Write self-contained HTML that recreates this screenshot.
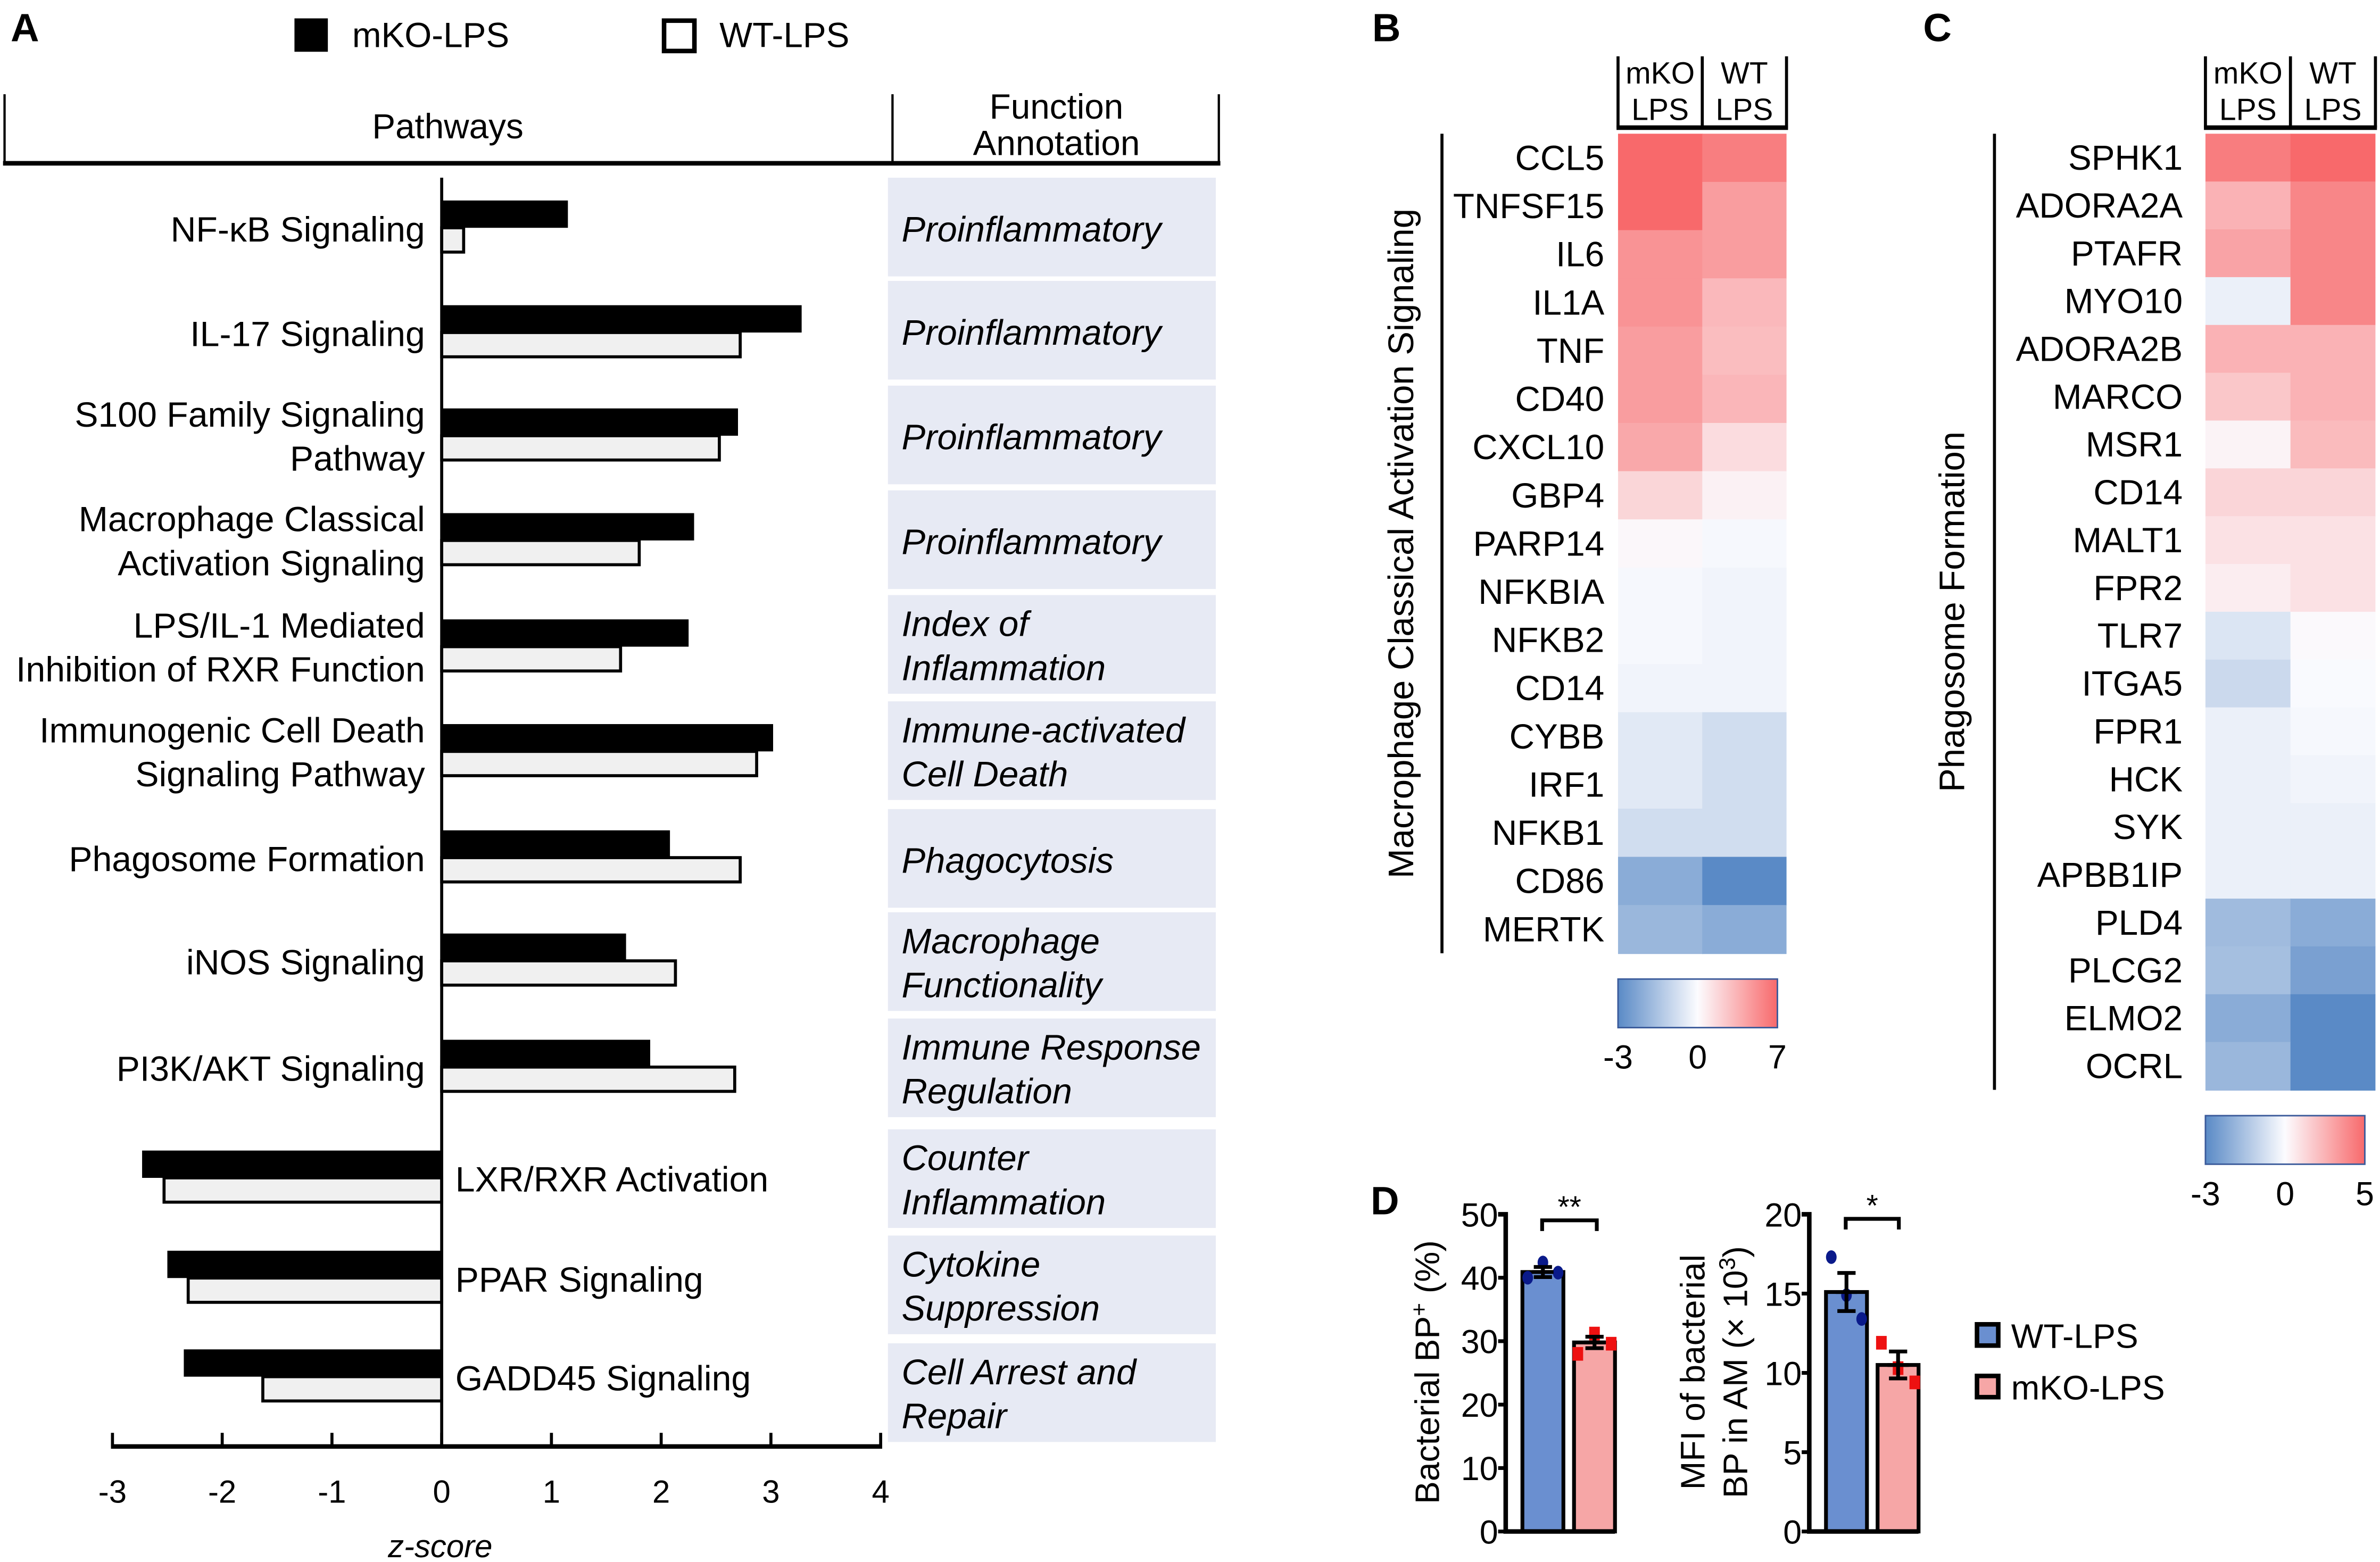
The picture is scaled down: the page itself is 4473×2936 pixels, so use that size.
<!DOCTYPE html>
<html><head><meta charset="utf-8"><style>
html,body{margin:0;padding:0;background:#fff;}
svg{display:block;font-family:"Liberation Sans",Arial,sans-serif;}
</style></head><body>
<svg id="fig" width="4473" height="2936" viewBox="0 0 1568 1029" xmlns="http://www.w3.org/2000/svg">
<rect width="1568" height="1029" fill="#fff"/>
<g id="pa"></g>
<g id="pb"></g>
<g id="pc"></g>
<g id="pd"></g>
</svg>
<script>
// ---------- Panel A data ----------
const pathways = ["NF-κB Signaling","IL-17 Signaling","S100 Family Signaling|Pathway","Macrophage Classical|Activation Signaling","LPS/IL-1 Mediated|Inhibition of RXR Function","Immunogenic Cell Death|Signaling Pathway","Phagosome Formation","iNOS Signaling","PI3K/AKT Signaling","LXR/RXR Activation","PPAR Signaling","GADD45 Signaling"];
const annotations = ["Proinflammatory","Proinflammatory","Proinflammatory","Proinflammatory","Index of|Inflammation","Immune-activated|Cell Death","Phagocytosis","Macrophage|Functionality","Immune Response|Regulation","Counter|Inflammation","Cytokine|Suppression","Cell Arrest and|Repair"];
const mkoZ = [1.15,3.28,2.7,2.3,2.25,3.02,2.08,1.68,1.9,-2.73,-2.5,-2.35];
const wtZ = [0.2,2.72,2.53,1.8,1.63,2.87,2.72,2.13,2.67,-2.53,-2.31,-1.63];
const zTicks = [-3,-2,-1,0,1,2,3,4];

// ---------- Panel B data ----------
const genesB = ["CCL5","TNFSF15","IL6","IL1A","TNF","CD40","CXCL10","GBP4","PARP14","NFKBIA","NFKB2","CD14","CYBB","IRF1","NFKB1","CD86","MERTK"];
const bMKO = [7,7,5,5,4.5,4.5,4,1.8,0.2,-0.1,-0.1,-0.2,-0.5,-0.5,-0.8,-2.1,-1.8];
const bWT = [6,4.5,4.5,3.2,3,3.3,1.5,0.5,-0.1,-0.2,-0.2,-0.2,-0.8,-0.8,-0.8,-3,-2.1];
const bScale = [-3,0,7];

// ---------- Panel C data ----------
const genesC = ["SPHK1","ADORA2A","PTAFR","MYO10","ADORA2B","MARCO","MSR1","CD14","MALT1","FPR2","TLR7","ITGA5","FPR1","HCK","SYK","APBB1IP","PLD4","PLCG2","ELMO2","OCRL"];
const cMKO = [4.3,2.5,3,-0.3,2.5,1.8,0.3,1.3,0.9,0.5,-0.6,-0.9,-0.3,-0.3,-0.3,-0.3,-1.7,-1.6,-2.1,-1.8];
const cWT = [5,4,4,4,2.5,2.5,2.2,1.3,0.9,0.9,0.1,-0.05,-0.1,-0.2,-0.3,-0.3,-2.1,-2.4,-3,-3];
const cScale = [-3,0,5];

// ---------- Panel D data ----------
const dGroups = ["WT-LPS","mKO-LPS"];
const d1Mean = [40.9,29.8];
const d1Sem = [0.8,0.9];
const d1Pts = [[40.0,42.4,40.8],[28.0,31.2,29.6]];
const d1Ticks = [0,10,20,30,40,50];
const d2Mean = [15.1,10.5];
const d2Sem = [1.2,0.85];
const d2Pts = [[17.3,14.9,13.4],[11.9,10.3,9.4]];
const d2Ticks = [0,5,10,15,20];

const NS="http://www.w3.org/2000/svg";
function mk(parent,tag,attrs,text){const e=document.createElementNS(NS,tag);for(const k in attrs)e.setAttribute(k,attrs[k]);if(text!==undefined)e.textContent=text;parent.appendChild(e);return e;}

// ===== Panel A =====
const pa=document.getElementById('pa');
let t=mk(pa,'text',{x:7,y:27,'font-size':26,'font-weight':'bold'},'A');


let lg=mk(pa,'g',{});


mk(lg,'rect',{x:194,y:12,width:22,height:22,fill:'#000'});
mk(lg,'text',{x:232,y:31,'font-size':23},'mKO-LPS');
lg=mk(pa,'g',{});


mk(lg,'rect',{x:437.5,y:13.5,width:20,height:20,fill:'#fff',stroke:'#000','stroke-width':3});
mk(lg,'text',{x:474,y:31,'font-size':23},'WT-LPS');
let hd=mk(pa,'g',{});


mk(hd,'line',{x1:3,y1:62,x2:3,y2:108,stroke:'#000','stroke-width':1.5});
mk(hd,'line',{x1:588,y1:62,x2:588,y2:108,stroke:'#000','stroke-width':1.5});
mk(hd,'line',{x1:803,y1:62,x2:803,y2:108,stroke:'#000','stroke-width':1.5});
mk(hd,'line',{x1:2,y1:107.5,x2:804,y2:107.5,stroke:'#000','stroke-width':3});
mk(hd,'text',{x:295,y:91,'font-size':23,'text-anchor':'middle'},'Pathways');
mk(hd,'text',{x:696,y:78,'font-size':23,'text-anchor':'middle'},'Function');
mk(hd,'text',{x:696,y:102,'font-size':23,'text-anchor':'middle'},'Annotation');

const x0=291, ux=72.3;
const xA=v=>x0+v*ux;
const rowY=[151,220,288,357,427,496,566,634,704,777,843,908];
const boxY=[150,218,287,356,425,495,566,634,704,777,847,918];
pathways.forEach((p,i)=>{
  const c=rowY[i], bc=boxY[i];
  const box=mk(pa,'rect',{x:585,y:bc-33,width:216,height:65,fill:'#e7eaf4'});
  
  
  const an=annotations[i].split('|');
  an.forEach((s,k)=>{
    const y = an.length===1 ? bc+9 : bc-6+k*29;
    const tt=mk(pa,'text',{x:594,y:y,'font-size':23.5,'font-style':'italic'},s);
    
    
  });
  const b1=mk(pa,'rect',{x:Math.min(xA(0),xA(mkoZ[i])),y:c-19,width:Math.abs(xA(mkoZ[i])-xA(0)),height:18,fill:'#000'});
  
  
  const b2=mk(pa,'rect',{x:Math.min(xA(0),xA(wtZ[i])),y:c-1,width:Math.abs(xA(wtZ[i])-xA(0)),height:16,fill:'#f0f0f0',stroke:'#000','stroke-width':2});
  
  
  const lines=p.split('|');
  const neg=mkoZ[i]<0;
  lines.forEach((s,k)=>{
    const y = lines.length===1 ? c+8 : c-7+k*29;
    const tt=mk(pa,'text',{x:neg?300:280,y:y,'font-size':23.2,'text-anchor':neg?'start':'end'},s);
    
    
  });
});
let ax=mk(pa,'line',{x1:x0,y1:117,x2:x0,y2:953,stroke:'#000','stroke-width':2});


ax=mk(pa,'line',{x1:xA(-3)-1,y1:953,x2:xA(4)+1,y2:953,stroke:'#000','stroke-width':3});


zTicks.forEach(v=>{
  mk(pa,'line',{x1:xA(v),y1:944,x2:xA(v),y2:953,stroke:'#000','stroke-width':2});
  const tt=mk(pa,'text',{x:xA(v),y:990,'font-size':21,'text-anchor':'middle'},String(v));
  
  
});
t=mk(pa,'text',{x:290,y:1026,'font-size':21,'font-style':'italic','text-anchor':'middle'},'z-score');



// ===== Heatmap helper =====
function col(v,mn,mx){
  let r,g,b,f;
  if(v>=0){f=Math.min(1,v/mx);r=252+(248-252)*f;g=252+(105-252)*f;b=255+(107-255)*f;}
  else{f=Math.min(1,v/mn);r=252+(90-252)*f;g=252+(138-252)*f;b=255+(198-255)*f;}
  return `rgb(${r|0},${g|0},${b|0})`;
}
function heat(g,letter,lx,genes,mko,wt,scale,o){
  let tt=mk(g,'text',{x:lx,y:27,'font-size':26,'font-weight':'bold'},letter);
  
  
  const cw=(o.x1-o.x0)/2, rh=(o.y1-o.y0)/genes.length;
  const hb=mk(g,'g',{});
  
  
  mk(hb,'line',{x1:o.x0,y1:37,x2:o.x0,y2:84,stroke:'#000','stroke-width':2});
  mk(hb,'line',{x1:o.x0+cw,y1:37,x2:o.x0+cw,y2:84,stroke:'#000','stroke-width':2});
  mk(hb,'line',{x1:o.x1,y1:37,x2:o.x1,y2:84,stroke:'#000','stroke-width':2});
  mk(hb,'line',{x1:o.x0-1,y1:84,x2:o.x1+1,y2:84,stroke:'#000','stroke-width':3});
  [['mKO','LPS'],['WT','LPS']].forEach((pp,k)=>{
    mk(hb,'text',{x:o.x0+cw*(k+0.5),y:55,'font-size':20,'text-anchor':'middle'},pp[0]);
    mk(hb,'text',{x:o.x0+cw*(k+0.5),y:79,'font-size':20,'text-anchor':'middle'},pp[1]);
  });
  genes.forEach((gname,i)=>{
    const y=o.y0+i*rh;
    let c1=mk(g,'rect',{x:o.x0,y:y,width:cw+0.5,height:rh+0.5,fill:col(mko[i],scale[0],scale[2])});
    
    
    let c2=mk(g,'rect',{x:o.x0+cw,y:y,width:cw,height:rh+0.5,fill:col(wt[i],scale[0],scale[2])});
    
    
    let lb=mk(g,'text',{x:o.lab,y:y+rh/2+8,'font-size':23,'text-anchor':'end'},gname);
    
    
  });
  let ln=mk(g,'line',{x1:o.bx,y1:o.y0,x2:o.bx,y2:o.y1,stroke:'#000','stroke-width':2});
  
  
  tt=mk(g,'text',{x:0,y:0,'font-size':23.5,'text-anchor':'middle',transform:`translate(${o.tx},${(o.y0+o.y1)/2}) rotate(-90)`},o.title);
  
  
  const gid='grad'+letter;
  const defs=mk(g,'defs',{});
  const lgd=mk(defs,'linearGradient',{id:gid,x1:0,x2:1,y1:0,y2:0});
  mk(lgd,'stop',{offset:0,'stop-color':'#5a8ac6'});
  mk(lgd,'stop',{offset:0.5,'stop-color':'#fcfcff'});
  mk(lgd,'stop',{offset:1,'stop-color':'#f8696b'});
  const cbw=o.cbx1-o.cbx0;
  let cb=mk(g,'rect',{x:o.cbx0,y:o.cby,width:cbw,height:32,fill:`url(#${gid})`,stroke:'#3a5a9a','stroke-width':1});
  
  
  scale.forEach((v,k)=>{
    const xx=o.cbx0+k/(scale.length-1)*cbw;
    let tl=mk(g,'text',{x:xx,y:o.cby+59,'font-size':22,'text-anchor':'middle'},String(v));
    
    
  });
}
heat(document.getElementById('pb'),'B',904,genesB,bMKO,bWT,bScale,{x0:1066,x1:1177,y0:88,y1:628,lab:1057,bx:950,tx:931,title:'Macrophage Classical Activation Signaling',cbx0:1066,cbx1:1171,cby:645});
heat(document.getElementById('pc'),'C',1267,genesC,cMKO,cWT,cScale,{x0:1453,x1:1565,y0:88,y1:718,lab:1438,bx:1314,tx:1294,title:'Phagosome Formation',cbx0:1453,cbx1:1558,cby:735});

// ===== Panel D =====
const pd=document.getElementById('pd');
t=mk(pd,'text',{x:903,y:800,'font-size':26,'font-weight':'bold'},'D');


const fills=['#6a8fd0','#f6a6a6'], dots=['#0a1a8a','#ee1111'];
function barChart(name,axX,maxV,ticks,mean,sem,pts,bars,stars,br){
  const g=mk(pd,'g',{});
  
  
  const y0=1009, y1=800;
  const yS=v=>y0-(v/maxV)*(y0-y1);
  mean.forEach((m,i)=>{
    const bx=bars[i];
    let r=mk(g,'rect',{x:bx,y:yS(m),width:27,height:y0-yS(m),fill:fills[i],stroke:'#000','stroke-width':2.5});
    
    
    const cx=bx+13.5;
    pts[i].forEach((p,k)=>{
      let d;
      const off = (i===0) ? (k-1)*10 : (k-1)*11;
      if(i===0) d=mk(g,'ellipse',{cx:cx+off,cy:yS(p),rx:3.5,ry:4.5,fill:dots[i]});
      else d=mk(g,'rect',{x:cx+off-3.5,y:yS(p)-4.5,width:7,height:9,fill:dots[i]});
      
      
    });
    let e=mk(g,'path',{d:`M${cx},${yS(m+sem[i])}V${yS(m-sem[i])}M${cx-6},${yS(m+sem[i])}H${cx+6}M${cx-6},${yS(m-sem[i])}H${cx+6}M${cx-7},${yS(m)}H${cx+7}`,stroke:'#000','stroke-width':2.5,fill:'none'});
    
    
  });
  let a=mk(g,'path',{d:`M${axX-5},${y1}H${axX}V${y0}H${axX+72}`,stroke:'#000','stroke-width':3,fill:'none'});
  
  
  ticks.forEach(v=>{
    mk(g,'line',{x1:axX-5,y1:yS(v),x2:axX,y2:yS(v),stroke:'#000','stroke-width':2.5});
    let tl=mk(g,'text',{x:axX-5,y:yS(v)+8,'font-size':22,'text-anchor':'end'},String(v));
    
    
  });
  let b=mk(g,'path',{d:`M${br[0]},${br[2]+7}V${br[2]}H${br[1]}V${br[2]+7}`,stroke:'#000','stroke-width':2.5,fill:'none'});
  
  
  let s=mk(g,'text',{x:(br[0]+br[1])/2,y:br[2]-2,'font-size':20,'text-anchor':'middle'},stars);
  
  
}
barChart('chart-bacterial-bp',992,50,d1Ticks,d1Mean,d1Sem,d1Pts,[1003,1037],'**',[1016,1052,804]);
barChart('chart-mfi',1192,20,d2Ticks,d2Mean,d2Sem,d2Pts,[1203,1237],'*',[1216,1251,803]);
t=mk(pd,'text',{x:0,y:0,'font-size':22.5,'text-anchor':'middle',transform:'translate(948,904) rotate(-90)'});


t.innerHTML='Bacterial BP<tspan font-size="15" dy="-8">+</tspan><tspan dy="8"> (%)</tspan>';
t=mk(pd,'text',{x:0,y:0,'font-size':22.5,'text-anchor':'middle',transform:'translate(1123,904) rotate(-90)'},'MFI of bacterial');


t=mk(pd,'text',{x:0,y:0,'font-size':22.5,'text-anchor':'middle',transform:'translate(1151,904) rotate(-90)'});


t.innerHTML='BP in AM (× 10<tspan font-size="15" dy="-8">3</tspan><tspan dy="8">)</tspan>';
dGroups.forEach((gname,i)=>{
  const g=mk(pd,'g',{});
  
  
  mk(g,'rect',{x:1302.5,y:872.5+i*34,width:14,height:14,fill:fills[i],stroke:'#000','stroke-width':3});
  mk(g,'text',{x:1325,y:888+i*34,'font-size':22.5},gname);
});
</script>
</body></html>
